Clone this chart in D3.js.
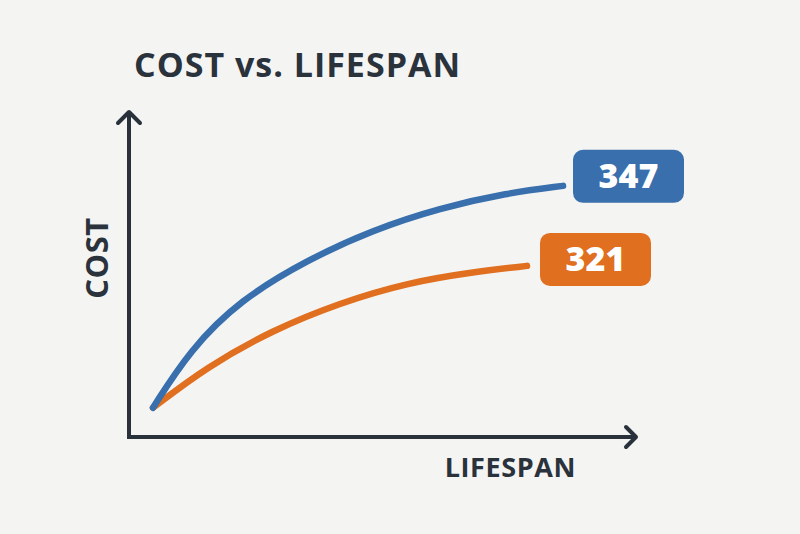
<!DOCTYPE html>
<html>
<head>
<meta charset="utf-8">
<style>
    body { margin: 0; background: #f4f4f3; }
    svg { display: block; }
    .title, .axis-label { font-family: "Open Sans", Lato, sans-serif; font-weight: 700; }
    .end-label { font-family: "Open Sans", Lato, sans-serif; font-weight: 800; }
</style>
</head>
<body>
<svg width="800" height="534"></svg>

<script src="https://d3js.org/d3.v7.min.js"></script>
<script>

// lifespan (years) and cost readings
const blueLifespan = [1.2, 3.05, 5.55, 8.9, 12.2, 15.55, 18.9, 21.7];
const blueCost = [274.9, 293.7, 309.9, 322.9, 332.7, 339.8, 344.7, 347];

const orangeLifespan = [1.2, 3.9, 7.2, 10.55, 13.9, 17.2, 19.9];
const orangeCost = [274.9, 288.2, 300.2, 309.0, 315.5, 319.0, 321];

const seriesNames = ["blue", "orange"];
const seriesColors = ["#386fac", "#e06f1f"];
const endLabels = ["347", "321"];

const width = 800, height = 534;
const svg = d3.select("svg");

svg.append("rect").attr("width", width).attr("height", height).attr("fill", "#f4f4f3");

let x = d3.scaleLinear().domain([0, 25]).range([129, 629]);
let y = d3.scaleLinear().domain([265.4, 371]).range([437, 112]);

let series = [
    { name: seriesNames[0], color: seriesColors[0], label: endLabels[0],
      pts: blueLifespan.map((v, i) => ({ x: v, y: blueCost[i] })), dx: 10, dy: -9.5 },
    { name: seriesNames[1], color: seriesColors[1], label: endLabels[1],
      pts: orangeLifespan.map((v, i) => ({ x: v, y: orangeCost[i] })), dx: 13, dy: -6.5 }
];

let axisColor = "#29313b";

// title
svg.append("text")
    .attr("class", "title")
    .attr("x", 134)
    .attr("y", 77)
    .attr("font-size", 34)
    .attr("letter-spacing", 1)
    .attr("fill", "#2a323c")
    .text("COST vs. LIFESPAN");

// axes (lines + open arrowheads)
let x0 = x.range()[0], yBase = y.range()[0], yTop = y.range()[1];
let xEnd = 636;

svg.append("path")
    .attr("d", `M${x0},${yTop} L${x0},${yBase + 2} M${x0 - 2},${yBase} L${xEnd},${yBase}`)
    .attr("stroke", axisColor).attr("stroke-width", 4).attr("fill", "none");

svg.append("path")
    .attr("d", `M${x0 - 11},${yTop + 11} L${x0},${yTop} L${x0 + 11},${yTop + 11}`)
    .attr("stroke", axisColor).attr("stroke-width", 4).attr("fill", "none")
    .attr("stroke-linecap", "round").attr("stroke-linejoin", "round");

svg.append("path")
    .attr("d", `M${xEnd - 10},${yBase - 10} L${xEnd},${yBase} L${xEnd - 10},${yBase + 10}`)
    .attr("stroke", axisColor).attr("stroke-width", 4).attr("fill", "none")
    .attr("stroke-linecap", "round").attr("stroke-linejoin", "round");

// axis labels
svg.append("text")
    .attr("class", "axis-label")
    .attr("x", 576)
    .attr("y", 477)
    .attr("text-anchor", "end")
    .attr("font-size", 27)
    .attr("letter-spacing", 0.6)
    .attr("fill", "#2a323c")
    .text("LIFESPAN");

svg.append("text")
    .attr("class", "axis-label")
    .attr("transform", "translate(108,258) rotate(-90)")
    .attr("text-anchor", "middle")
    .attr("font-size", 31)
    .attr("letter-spacing", 0.5)
    .attr("fill", "#2a323c")
    .text("COST");

// curves
let line = d3.line()
    .x(d => x(d.x))
    .y(d => y(d.y))
    .curve(d3.curveBasis);

// orange drawn first so blue sits on top near the origin
series.slice().reverse().forEach(s => {
    svg.append("path")
        .datum(s.pts)
        .attr("d", line)
        .attr("fill", "none")
        .attr("stroke", s.color)
        .attr("stroke-width", 6.5)
        .attr("stroke-linecap", "round");
});

// end labels
let boxW = 111, boxH = 53;
series.forEach(s => {
    let last = s.pts[s.pts.length - 1];
    let bx = x(last.x) + s.dx;
    let cy = y(last.y) + s.dy;
    let g = svg.append("g").attr("transform", `translate(${bx},${cy - boxH / 2})`);
    g.append("rect")
        .attr("width", boxW).attr("height", boxH)
        .attr("rx", 10)
        .attr("fill", s.color);
    g.append("text")
        .attr("class", "end-label")
        .attr("x", boxW / 2)
        .attr("y", boxH / 2 + 12)
        .attr("text-anchor", "middle")
        .attr("font-size", 34)
        .attr("fill", "#ffffff")
        .text(s.label);
});

</script>
</body>
</html>
